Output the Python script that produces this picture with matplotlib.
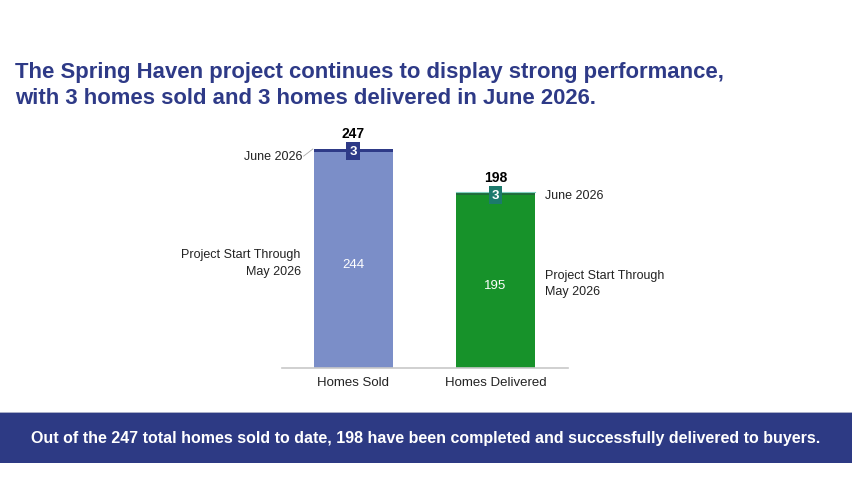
import matplotlib.pyplot as plt
from matplotlib.patches import Rectangle

plt.rcParams['font.family'] = ['Liberation Sans', 'DejaVu Sans']

categories = ['Homes Sold', 'Homes Delivered']
through_may = [244, 195]
june = [3, 3]
totals = [a + b for a, b in zip(through_may, june)]

base_colors = ['#7b8ec8', '#17922a']
june_colors = ['#2e3a87', '#1f6b3a']
box_colors = ['#2e3a87', '#1c7a6c']
navy = '#2e3a87'

W, H = 852, 502
fig = plt.figure(figsize=(W / 100, H / 100), dpi=100)

# axes placed in pixels: baseline y=369, x 282..568, 0.8866 px per unit
px_per_unit = 219 / 247
ymax = 280
ax_h = ymax * px_per_unit
ax = fig.add_axes([282 / W, (H - 369) / H, (568 - 282) / W, ax_h / H])

x = [0, 1]
bw = 0.556
ax.bar(x, through_may, width=bw, color=base_colors, zorder=2)
ax.bar(x, june, bottom=through_may, width=bw, color=june_colors, zorder=2)

ax.set_xlim(-0.5, 1.51)
ax.set_ylim(0, ymax)
for s in ['top', 'right', 'left']:
    ax.spines[s].set_visible(False)
ax.spines['bottom'].set_color('#c8c8c8')
ax.spines['bottom'].set_linewidth(1.2)
ax.set_yticks([])
ax.set_xticks(x)
ax.set_xticklabels(categories, fontsize=9.5, color='#222222')
ax.tick_params(axis='x', length=0, pad=6)

for i in range(2):
    # segment value
    ax.text(x[i], through_may[i] * 0.48, str(through_may[i]), ha='center', va='center',
            color='white', fontsize=9.5)
    # june box label
    ax.text(x[i], through_may[i] + june[i] / 2 - 1, str(june[i]), ha='center', va='center',
            color='white', fontsize=9.5, fontweight='bold', zorder=4,
            bbox=dict(boxstyle='square,pad=0.22', fc=box_colors[i], ec='none'))
    # total on top
    ax.text(x[i], totals[i] + 10, str(totals[i]), ha='center', va='bottom',
            color='black', fontsize=10, fontweight='bold')

# light top edge on delivered bar
ax.plot([x[1] - bw / 2, x[1] + bw / 2], [totals[1], totals[1]], color='#7fd0c0', lw=0.8, zorder=3)

# left side annotations (Homes Sold)
ax.text(x[0] - bw / 2 - 0.08, totals[0] - 8, 'June 2026', ha='right', va='center',
        fontsize=9, color='#222222')
ax.plot([x[0] - bw / 2 - 0.07, x[0] - bw / 2 - 0.005], [totals[0] - 8, totals[0]],
        color='#aaaaaa', lw=0.6, clip_on=False)
ax.text(x[0] - bw / 2 - 0.09, 119, 'Project Start Through\nMay 2026', ha='right', va='center',
        fontsize=9, color='#222222', linespacing=1.45)

# right side annotations (Homes Delivered)
ax.text(x[1] + bw / 2 + 0.07, 195, 'June 2026', ha='left', va='center',
        fontsize=9, color='#222222')
ax.text(x[1] + bw / 2 + 0.07, 96, 'Project Start Through\nMay 2026', ha='left', va='center',
        fontsize=9, color='#222222', linespacing=1.45)

# title
fig.text(15 / W, 1 - 85.5 / H, 'The Spring Haven project continues to display strong performance,\n'
         'with 3 homes sold and 3 homes delivered in June 2026.',
         ha='left', va='center', fontsize=15.9, fontweight='bold', color=navy, linespacing=1.37)

# bottom banner
fig.patches.append(Rectangle((0, (H - 464) / H), 1, 51 / H, transform=fig.transFigure,
                             fc='#2d3a84', ec='none'))
fig.patches.append(Rectangle((0, (H - 414) / H), 1, 1.5 / H, transform=fig.transFigure,
                             fc='#a9aec8', ec='none'))
fig.text(0.5, 1 - 439 / H, 'Out of the 247 total homes sold to date, 198 have been completed '
         'and successfully delivered to buyers.', ha='center', va='center',
         fontsize=11.5, fontweight='bold', color='white')

fig.savefig('out.png', dpi=100)
